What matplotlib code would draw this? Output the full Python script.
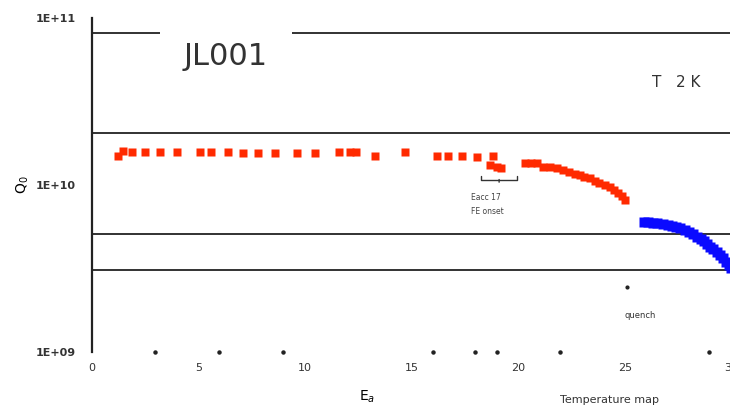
import matplotlib
matplotlib.use("Agg")
import matplotlib.pyplot as plt

# Q0 vs Eacc, test JL001 at 2 K
red_e = [1.2, 1.45, 1.9, 2.5, 3.2, 4.0, 5.05, 5.6, 6.4, 7.1, 7.8, 8.6, 9.6, 10.45,
         11.6, 12.1, 12.4, 13.3, 14.7, 16.2, 16.7, 17.35, 18.05, 18.8, 18.65, 19.0, 19.2,
         20.3, 20.6, 20.9, 21.15, 21.5, 21.8, 22.1, 22.4, 22.65, 22.9, 23.1, 23.35,
         23.6, 23.8, 24.05, 24.3, 24.5, 24.7, 24.85, 25.0]
red_q = [1.49e10, 1.60e10, 1.58e10, 1.58e10, 1.58e10, 1.58e10, 1.58e10, 1.58e10,
         1.58e10, 1.56e10, 1.55e10, 1.55e10, 1.55e10, 1.55e10, 1.58e10, 1.58e10,
         1.58e10, 1.49e10, 1.58e10, 1.49e10, 1.49e10, 1.49e10, 1.47e10, 1.49e10,
         1.32e10, 1.28e10, 1.27e10,
         1.36e10, 1.36e10, 1.35e10, 1.29e10, 1.28e10, 1.26e10, 1.23e10, 1.20e10,
         1.17e10, 1.15e10, 1.12e10, 1.10e10, 1.06e10, 1.03e10, 1.00e10, 9.7e9,
         9.3e9, 8.95e9, 8.6e9, 8.1e9]

blue_e = [25.9, 26.1, 26.3, 26.5, 26.8, 27.0, 27.2, 27.4, 27.6, 27.8, 28.0, 28.2,
          28.4, 28.55, 28.7, 28.85, 29.0, 29.15, 29.3, 29.45, 29.6, 29.75, 29.9, 30.0]
blue_q = [6.0e9, 5.97e9, 5.93e9, 5.9e9, 5.83e9, 5.78e9, 5.7e9, 5.62e9, 5.53e9,
          5.4e9, 5.25e9, 5.08e9, 4.89e9, 4.74e9, 4.6e9, 4.43e9, 4.26e9, 4.12e9,
          3.98e9, 3.83e9, 3.65e9, 3.48e9, 3.3e9, 3.2e9]

# reference levels drawn across the plot
levels = [2.05e10, 5.1e9, 3.1e9]
top_level = 8.1e10

quench_e = [25.1]
quench_q = [2.45e9]

base_dots = [2.95, 5.95, 8.95, 16.0, 17.95, 19.0, 21.95, 28.95]

xticks = [0, 5, 10, 15, 20, 25, 30]
yticks = [1e9, 1e10, 1e11]
ytick_labels = ["1E+09", "1E+10", "1E+11"]

fig = plt.figure(figsize=(7.3, 4.11), dpi=100)
ax = fig.add_axes([0.126, 0.1436, 0.876, 0.8127])
ax.set_yscale("log")
ax.set_xlim(0, 30)
ax.set_ylim(1e9, 1e11)

for lv in levels:
    ax.axhline(lv, color="#222222", lw=1.3, zorder=1)
ax.hlines(top_level, 0, 3.2, color="#222222", lw=1.3, zorder=1)
ax.hlines(top_level, 9.4, 30, color="#222222", lw=1.3, zorder=1)

ax.plot(red_e, red_q, ls="none", marker="s", ms=5.5, color="#ff2a00", mec="none",
        zorder=3)
ax.plot(blue_e, blue_q, ls="none", marker="s", ms=7.5, color="#0a0aff", mec="none",
        zorder=3)
ax.plot(quench_e, quench_q, ls="none", marker="o", ms=2, color="#222222")
ax.plot(base_dots, [1e9] * len(base_dots), ls="none", marker="o", ms=2.2,
        color="#222222", clip_on=False)

for s in ["top", "right", "bottom"]:
    ax.spines[s].set_visible(False)
ax.spines["left"].set_linewidth(1.6)
ax.spines["left"].set_color("#222222")

ax.set_xticks(xticks)
ax.set_xticklabels([str(t) for t in xticks])
ax.set_yticks(yticks)
ax.set_yticklabels(ytick_labels)
ax.minorticks_off()
ax.tick_params(axis="both", length=0, labelsize=8, colors="#333333")
ax.tick_params(axis="x", pad=8)
ax.tick_params(axis="y", pad=12)
for lab in ax.get_yticklabels():
    lab.set_fontweight("bold")

ax.set_ylabel("Q$_0$", fontsize=10, labelpad=6)
ax.yaxis.set_label_coords(-0.095, 0.5)
ax.set_xlabel("E$_{a}$", fontsize=10)
ax.xaxis.set_label_coords(0.43, -0.11)

ax.text(6.25, 5.9e10, "JL001", fontsize=22, ha="center", va="center", color="#333333")
ax.text(27.4, 4.1e10, "T   2 K", fontsize=11, ha="center", va="center",
        color="#333333")
ax.annotate("", xy=(19.1, 1.12e10), xytext=(19.1, 1.0e10),
            arrowprops=dict(arrowstyle="-[, widthB=1.3, lengthB=0.25", lw=1,
                            color="#333333"))
ax.text(17.8, 8.9e9, "Eacc 17\nFE onset", fontsize=5.5, ha="left", va="top",
        color="#444444", linespacing=1.6)
ax.text(25.7, 1.66e9, "quench", fontsize=6, ha="center", va="center",
        color="#333333")
fig.text(0.835, 0.027, "Temperature map", fontsize=8, ha="center", va="center",
         color="#333333")

fig.savefig("out.png", dpi=100)
